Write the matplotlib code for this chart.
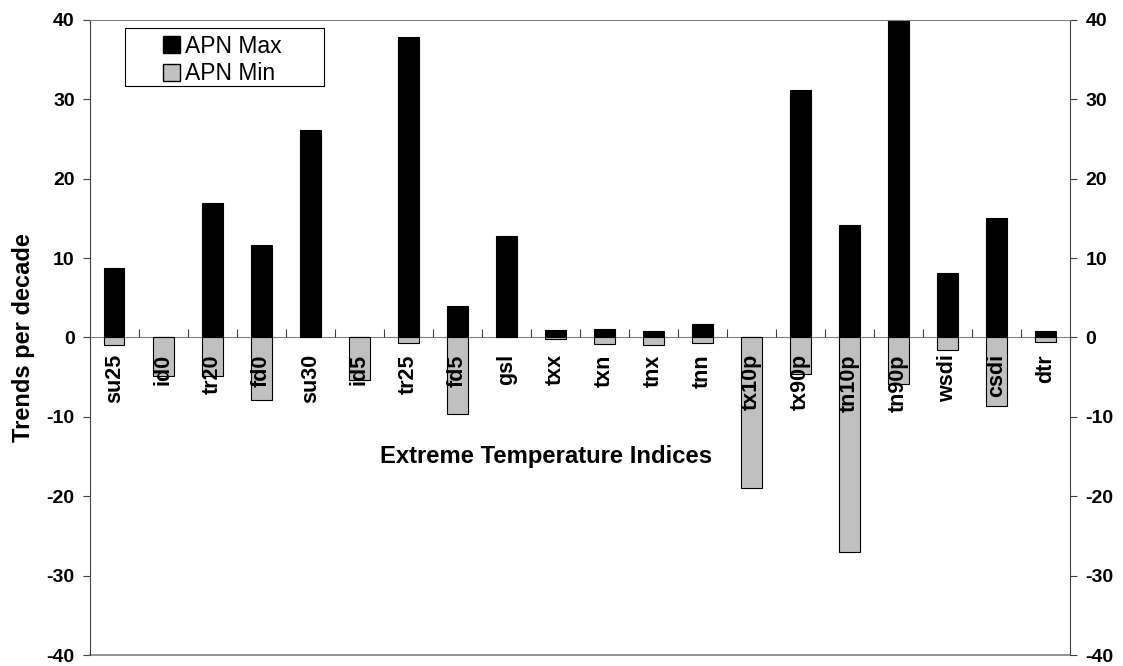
import numpy as np
import matplotlib
matplotlib.use("Agg")
import matplotlib.pyplot as plt
from matplotlib.patches import Patch, Rectangle

plt.rcParams['font.family'] = ['Liberation Sans', 'DejaVu Sans']
plt.rcParams['axes.unicode_minus'] = False

# data
indices = ['su25', 'id0', 'tr20', 'fd0', 'su30', 'id5', 'tr25', 'fd5', 'gsl', 'txx',
           'txn', 'tnx', 'tnn', 'tx10p', 'tx90p', 'tn10p', 'tn90p', 'wsdi', 'csdi', 'dtr']
apn_max = [8.7, 0, 17.0, 11.6, 26.2, 0, 37.9, 4.0, 12.8, 0.9,
           1.1, 0.8, 1.7, 0, 31.2, 14.2, 40.0, 8.1, 15.1, 0.8]
apn_min = [-1.0, -4.9, -4.9, -7.9, 0, -5.4, -0.7, -9.6, 0, -0.2,
           -0.8, -1.0, -0.7, -19.0, -4.6, -27.0, -5.8, -1.6, -8.6, -0.6]
yticks = [-40, -30, -20, -10, 0, 10, 20, 30, 40]

fig = plt.figure(figsize=(11.23, 6.66), dpi=100)
ax = fig.add_axes([0.0801, 0.0165, 0.8727, 0.9535])

x = np.arange(len(indices))
ax.bar(x, apn_max, width=0.41, color='black', edgecolor='black', linewidth=0.8, zorder=2)
ax.bar(x, apn_min, width=0.41, color='#c0c0c0', edgecolor='black', linewidth=0.8, zorder=3)

ax.set_xlim(-0.5, len(indices) - 0.5)
ax.set_ylim(-40, 40)

# category axis crosses at zero, with ticks between categories
ax.spines['bottom'].set_position(('data', 0))
ax.spines['bottom'].set_color('#808080')
ax.spines['bottom'].set_zorder(1)
ax.spines['top'].set_color('#808080')
ax.spines['left'].set_color('#404040')
ax.spines['right'].set_color('#404040')
ax.axhline(-40, color='#808080', linewidth=1.2, clip_on=False)
ax.set_xticks(np.arange(0.5, len(indices) - 1, 1))
ax.tick_params(axis='x', direction='in', length=6, color='#404040', labelbottom=False)

ax.set_yticks(yticks)
ax.tick_params(axis='y', direction='out', length=5, color='#404040',
               right=True, labelright=True, labelsize=14, pad=6)
for t in ax.yaxis.get_major_ticks():
    t.label1.set_fontweight('bold')
    t.label2.set_fontweight('bold')

for i, name in enumerate(indices):
    ax.text(i, -2.1, name, rotation=90, ha='center', va='top',
            fontsize=15.5, fontweight='bold', zorder=4)

ax.text(0.465, -15, 'Extreme Temperature Indices', transform=ax.get_yaxis_transform(),
        ha='center', va='center', fontsize=17.2, fontweight='bold')
ax.set_ylabel('Trends per decade', fontsize=17, fontweight='bold', labelpad=8)

# legend box drawn separately so the entries can sit inset like the original
ax.add_patch(Rectangle((0.0357, 0.896), 0.2031, 0.0914, transform=ax.transAxes,
                       facecolor='white', edgecolor='black', linewidth=0.8, zorder=5))
handles = [Patch(facecolor='black', edgecolor='black', label='APN Max'),
           Patch(facecolor='#c0c0c0', edgecolor='black', label='APN Min')]
leg = ax.legend(handles=handles, loc='upper left', bbox_to_anchor=(0.0745, 0.977),
                borderaxespad=0, borderpad=0, frameon=False,
                fontsize=16.5, handlelength=0.75, handleheight=0.75, handletextpad=0.2,
                labelspacing=0.2)
leg.set_zorder(6)

fig.savefig('out.png', dpi=100)
